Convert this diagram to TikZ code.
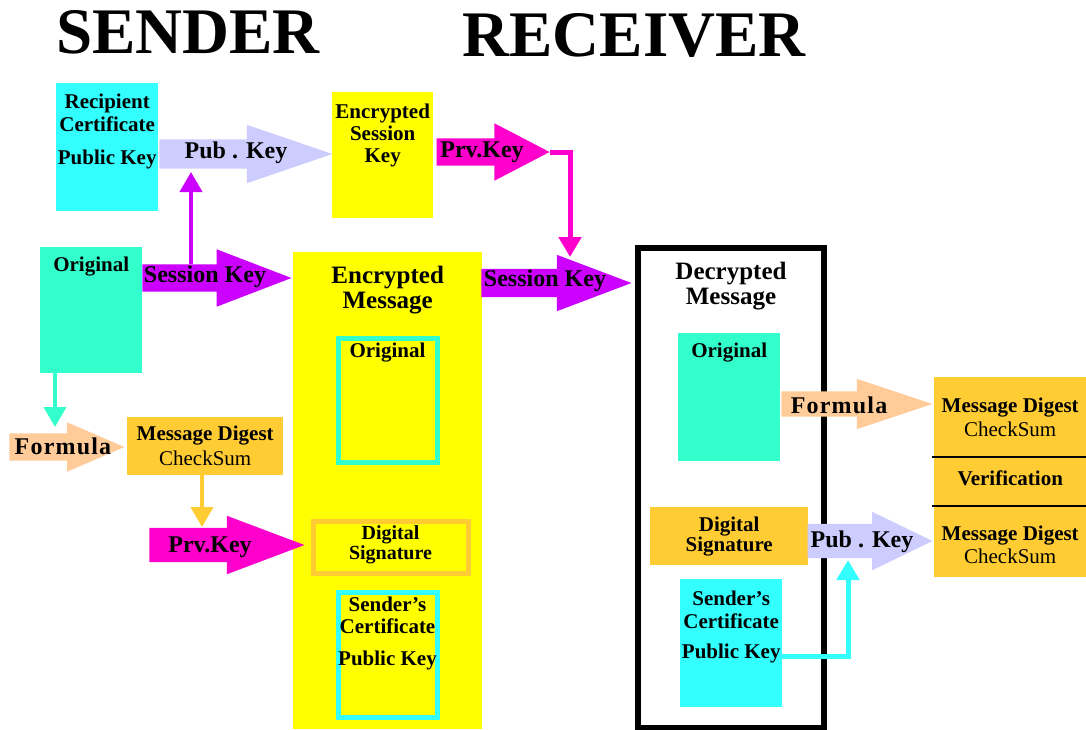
\documentclass[tikz,border=0pt]{standalone}
\usepackage{fontspec}
\setmainfont{Liberation Serif}
\usetikzlibrary{positioning,arrows.meta,shapes.arrows}
\definecolor{kcCyan}{RGB}{51,255,255}
\definecolor{kcAqua}{RGB}{51,255,204}
\definecolor{kcYellow}{RGB}{255,255,0}
\definecolor{kcOrange}{RGB}{255,204,51}
\definecolor{kcPeach}{RGB}{255,204,153}
\definecolor{kcLav}{RGB}{204,204,255}
\definecolor{kcPurple}{RGB}{204,0,255}
\definecolor{kcMagenta}{RGB}{255,0,204}

\tikzset{
  box/.style={fill=#1, draw=none, inner sep=0, anchor=north west},
  framebox/.style={draw=#1, line width=5pt, fill=none, inner sep=0, anchor=north west},
  lbl/.style={font=\bfseries\fontsize{21}{22}\selectfont, align=center, inner sep=0},
  siglbl/.style={font=\bfseries\fontsize{20}{19.5}\selectfont, align=center, inner sep=0},
  biglbl/.style={font=\bfseries\fontsize{25}{26}\selectfont, align=center, inner sep=0},
  atext/.style={font=\bfseries\fontsize{24}{26}\selectfont, inner sep=0},
  title/.style={font=\bfseries\fontsize{65}{70}\selectfont, inner sep=0, anchor=base},
  blockarrow/.style={single arrow, fill=#1, draw=none, inner xsep=0,
    single arrow head indent=0, anchor=tip, minimum width=0pt},
  link/.style={line width=4pt, draw=#1, -{Triangle[length=20pt,width=22pt]}}
}

\begin{document}
\begin{tikzpicture}[x=1pt,y=-1pt]
  \useasboundingbox (0,0) rectangle (1086,729);

  % Titles
  \node[title] (sender) at (188,53) {SENDER};
  \node[title] (receiver) at (634,56) {RECEIVER};

  % Sender side
  \node[box=kcCyan, minimum width=102, minimum height=128] (rcert) at (56,83) {};
  \node[lbl, below=11pt of rcert.north] (rcertT) {Recipient\\[1pt]Certificate\\[11pt]Public Key};

  \node[box=kcAqua, minimum width=102, minimum height=126] (origS) at (40,247) {};
  \node[lbl, below=10pt of origS.north] (origST) {Original};

  \node[box=kcYellow, minimum width=101, minimum height=126] (esk) at (332,92) {};
  \node[lbl, below=12pt of esk.north] (eskT) {Encrypted\\Session\\Key};

  \node[box=kcOrange, minimum width=156, minimum height=58] (mdS) at (127,417) {};
  \node[lbl, below=9pt of mdS.north] (mdST) {Message Digest\\[2.5pt]{\mdseries CheckSum}};

  % Encrypted message
  \node[box=kcYellow, minimum width=189, minimum height=477] (encM) at (293,252) {};
  \node[biglbl, below=14pt of encM.north] (encMT) {Encrypted\\[-1pt]Message};

  \node[framebox=kcAqua, minimum width=99, minimum height=124] (origE) at (335.5,335.5) {};
  \node[lbl, below=7pt of origE.north] (origET) {Original};

  \node[framebox=kcOrange, minimum width=155, minimum height=52] (dsigE) at (310.5,518.5) {};
  \node[siglbl, below=7pt of dsigE.north] (dsigET) {Digital\\Signature};

  \node[framebox=kcCyan, minimum width=99, minimum height=125] (scertE) at (335.5,589.5) {};
  \node[lbl, below=7pt of scertE.north] (scertET) {Sender’s\\Certificate\\[10pt]Public Key};

  % Receiver side
  \node[draw=black, line width=6pt, inner sep=0, anchor=north west,
        minimum width=186, minimum height=480] (dec) at (635,245) {};
  \node[biglbl, below=17pt of dec.north] (decT) {Decrypted\\[-1pt]Message};

  \node[box=kcAqua, minimum width=102, minimum height=128] (origD) at (678,333) {};
  \node[lbl, below=10pt of origD.north] (origDT) {Original};

  \node[box=kcOrange, minimum width=158, minimum height=58] (dsigD) at (650,507) {};
  \node[lbl, below=10pt of dsigD.north] (dsigDT) {Digital\\[-2pt]Signature};

  \node[box=kcCyan, minimum width=102, minimum height=128] (scertD) at (680,579) {};
  \node[lbl, below=12pt of scertD.north] (scertDT) {Sender’s\\[1pt]Certificate\\[8pt]Public Key};

  \node[box=kcOrange, minimum width=152, minimum height=80] (mdR) at (934,377) {};
  \node[lbl, below=21pt of mdR.north] (mdRT) {Message Digest\\[2pt]{\mdseries CheckSum}};
  \node[box=kcOrange, minimum width=152, minimum height=49] (verif) at (934,457) {};
  \node[lbl, below=14pt of verif.north] (verifT) {Verification};
  \node[box=kcOrange, minimum width=152, minimum height=71] (mdC) at (934,506) {};
  \node[lbl, below=20pt of mdC.north] (mdCT) {Message Digest\\[1pt]{\mdseries CheckSum}};
  \draw[line width=2pt] ([xshift=-2pt]mdR.south west) -- (mdR.south east);
  \draw[line width=2pt] ([xshift=-2pt]verif.south west) -- (verif.south east);

  % Block arrows
  \node[blockarrow=kcLav, inner ysep=14.5pt, single arrow head extend=14.5pt,
        minimum height=173pt, single arrow tip angle=37.7] (pubA) at (333,154) {};
  \node[atext] (pubAT) at (236,153) {Pub . Key};

  \node[blockarrow=kcPurple, inner ysep=13.5pt, single arrow head extend=15pt,
        minimum height=149pt, single arrow tip angle=42] (sessA) at (292,278) {};
  \node[atext] (sessAT) at (205,277) {Session Key};

  \node[blockarrow=kcMagenta, inner ysep=13.5pt, single arrow head extend=15pt,
        minimum height=113pt, single arrow tip angle=55] (prvA) at (550,152) {};
  \node[atext] (prvAT) at (482,152) {Prv.Key};

  \node[blockarrow=kcPurple, inner ysep=14pt, single arrow head extend=14pt,
        minimum height=150pt, single arrow tip angle=41.4] (sessB) at (632,283) {};
  \node[atext] (sessBT) at (545,281) {Session Key};

  \node[blockarrow=kcPeach, inner ysep=13.5pt, single arrow head extend=11pt,
        minimum height=115pt, single arrow tip angle=46.5] (formA) at (125,447) {};
  \node[atext, font=\bfseries\fontsize{24}{26}\selectfont\addfontfeature{LetterSpace=5}] (formAT) at (63,446) {Formula};

  \node[blockarrow=kcMagenta, inner ysep=17pt, single arrow head extend=12pt,
        minimum height=155pt, single arrow tip angle=41.3] (prvB) at (305,545) {};
  \node[atext] (prvBT) at (210,547) {Prv.Key};

  \node[blockarrow=kcPeach, inner ysep=12.5pt, single arrow head extend=12.5pt,
        minimum height=151pt, single arrow tip angle=36.9] (formB) at (933,404) {};
  \node[atext, font=\bfseries\fontsize{24}{26}\selectfont\addfontfeature{LetterSpace=5}] (formBT) at (839,405) {Formula};

  \node[blockarrow=kcLav, inner ysep=17pt, single arrow head extend=12pt,
        minimum height=125pt, single arrow tip angle=51.6] (pubB) at (933,541) {};
  \node[atext] (pubBT) at (862,542) {Pub . Key};

  % Connectors
  \coordinate (skUp) at (191,264);
  \coordinate (pkIn) at (191,172);
  \draw[link=kcPurple] (skUp) -- (pkIn);

  \coordinate (skIn) at (570,257);
  \draw[link=kcMagenta, line width=5pt] (prvA.tip) -| (skIn);

  \coordinate (fmIn) at (55,427);
  \draw[link=kcAqua] (fmIn |- origS.south) -- (fmIn);

  \coordinate (prvIn) at (202,527);
  \draw[link=kcOrange] (prvIn |- mdS.south) -- (prvIn);

  \coordinate (pubIn) at (848,560);
  \draw[link=kcCyan, line width=5pt] ([yshift=-13pt]scertD.east) -| (pubIn);
\end{tikzpicture}
\end{document}
